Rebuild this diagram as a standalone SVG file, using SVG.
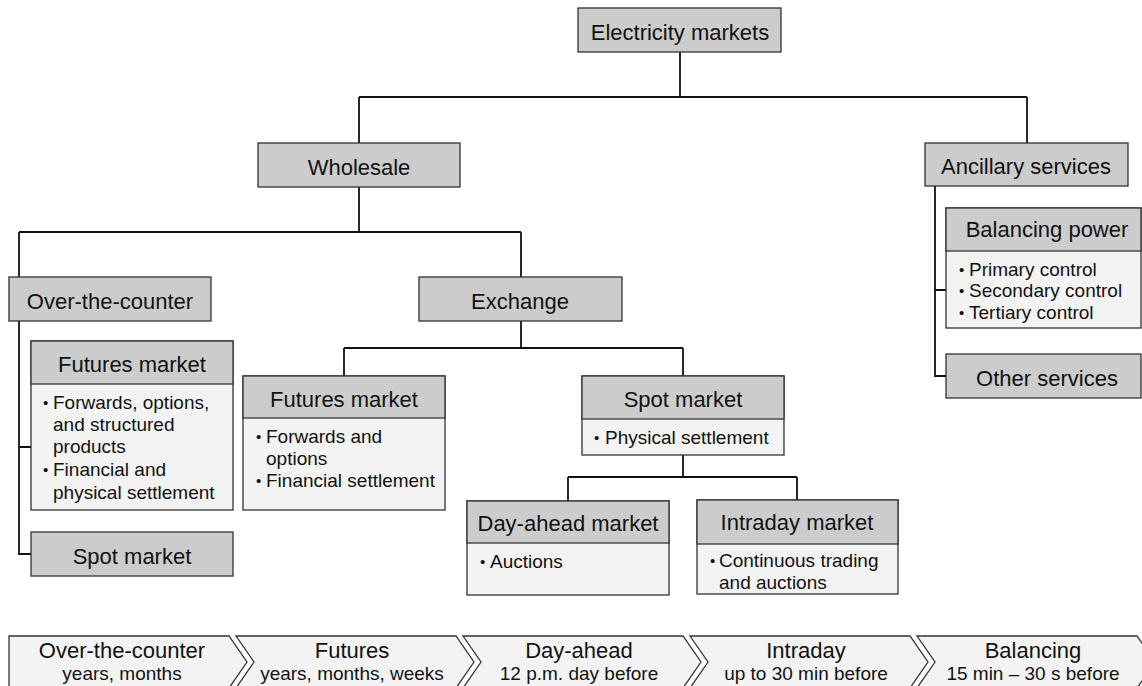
<svg xmlns="http://www.w3.org/2000/svg" width="1142" height="686" viewBox="0 0 1142 686">
<style>
  .hd { fill: #cccccc; stroke: #333333; stroke-width: 1.3; }
  .bd { fill: #f3f3f3; stroke: #333333; stroke-width: 1.3; }
  .t { font-family: "Liberation Sans", Arial, sans-serif; font-size: 22px; fill: #111111; text-anchor: middle; }
  .b { font-family: "Liberation Sans", Arial, sans-serif; font-size: 19px; fill: #111111; }
  .b .d { font-size: 15px; }
  .s { font-family: "Liberation Sans", Arial, sans-serif; font-size: 19px; fill: #111111; text-anchor: middle; }
  .ln { fill: none; stroke: #111111; stroke-width: 1.8; }
</style>
<rect width="1142" height="686" fill="#ffffff"/>
<g id="connectors">
  <path class="ln" d="M680 52 V97 M359 97 H1027 M359 97 V143 M1027 97 V143"/>
  <path class="ln" d="M359 187 V232 M19 232 H521 M19 232 V277 M521 232 V277"/>
  <path class="ln" d="M19 321 V554 H31 M19 447 H31"/>
  <path class="ln" d="M521 321 V348 M344 348 H683 M344 348 V376 M683 348 V376"/>
  <path class="ln" d="M683 455 V477 M568 477 H797 M568 477 V501 M797 477 V500"/>
  <path class="ln" d="M935 186 V376 H946 M935 290 H946"/>
</g>
<g id="electricity-markets">
  <rect class="hd" x="578" y="8" width="203" height="44"/>
  <text class="t" x="680" y="40">Electricity markets</text>
</g>
<g id="wholesale">
  <rect class="hd" x="258" y="143" width="202" height="44"/>
  <text class="t" x="359" y="175">Wholesale</text>
</g>
<g id="ancillary-services">
  <rect class="hd" x="925" y="143" width="203" height="43"/>
  <text class="t" x="1026" y="174">Ancillary services</text>
</g>
<g id="over-the-counter">
  <rect class="hd" x="9" y="277" width="202" height="44"/>
  <text class="t" x="110" y="309">Over-the-counter</text>
</g>
<g id="exchange">
  <rect class="hd" x="419" y="277" width="203" height="44"/>
  <text class="t" x="520" y="309">Exchange</text>
</g>
<g id="otc-futures-market">
  <rect class="bd" x="31" y="341" width="202" height="169"/>
  <rect class="hd" x="31" y="341" width="202" height="43"/>
  <text class="t" x="132" y="372">Futures market</text>
  <text class="b"><tspan class="d" x="43" y="408">•</tspan><tspan x="53" y="409">Forwards, options,</tspan></text>
  <text class="b" x="53" y="431">and structured</text>
  <text class="b" x="53" y="453">products</text>
  <text class="b"><tspan class="d" x="43" y="475">•</tspan><tspan x="53" y="476">Financial and</tspan></text>
  <text class="b" x="53" y="499">physical settlement</text>
</g>
<g id="otc-spot-market">
  <rect class="hd" x="31" y="532" width="202" height="44"/>
  <text class="t" x="132" y="564">Spot market</text>
</g>
<g id="exchange-futures-market">
  <rect class="bd" x="243" y="376" width="202" height="134"/>
  <rect class="hd" x="243" y="376" width="202" height="42"/>
  <text class="t" x="344" y="407">Futures market</text>
  <text class="b"><tspan class="d" x="256" y="442">•</tspan><tspan x="266" y="443">Forwards and</tspan></text>
  <text class="b" x="266" y="465">options</text>
  <text class="b"><tspan class="d" x="256" y="486">•</tspan><tspan x="266" y="487">Financial settlement</tspan></text>
</g>
<g id="exchange-spot-market">
  <rect class="bd" x="582" y="376" width="202" height="79"/>
  <rect class="hd" x="582" y="376" width="202" height="43"/>
  <text class="t" x="683" y="407">Spot market</text>
  <text class="b"><tspan class="d" x="594" y="443">•</tspan><tspan x="605" y="444">Physical settlement</tspan></text>
</g>
<g id="day-ahead-market">
  <rect class="bd" x="467" y="501" width="202" height="94"/>
  <rect class="hd" x="467" y="501" width="202" height="42"/>
  <text class="t" x="568" y="531">Day-ahead market</text>
  <text class="b"><tspan class="d" x="480" y="567">•</tspan><tspan x="490" y="568">Auctions</tspan></text>
</g>
<g id="intraday-market">
  <rect class="bd" x="697" y="500" width="201" height="94"/>
  <rect class="hd" x="697" y="500" width="201" height="44"/>
  <text class="t" x="797" y="530">Intraday market</text>
  <text class="b"><tspan class="d" x="710" y="566">•</tspan><tspan x="719" y="567">Continuous trading</tspan></text>
  <text class="b" x="719" y="589">and auctions</text>
</g>
<g id="balancing-power">
  <rect class="bd" x="946" y="208" width="195" height="120"/>
  <rect class="hd" x="946" y="208" width="195" height="43"/>
  <text class="t" x="1047" y="237">Balancing power</text>
  <text class="b"><tspan class="d" x="959" y="275">•</tspan><tspan x="969" y="276">Primary control</tspan></text>
  <text class="b"><tspan class="d" x="959" y="296">•</tspan><tspan x="969" y="297">Secondary control</tspan></text>
  <text class="b"><tspan class="d" x="959" y="318">•</tspan><tspan x="969" y="319">Tertiary control</tspan></text>
</g>
<g id="other-services">
  <rect class="hd" x="946" y="354" width="195" height="44"/>
  <text class="t" x="1047" y="386">Other services</text>
</g>
<g id="timeline-otc">
  <polygon class="bd" points="9,636 229,636 247,662 229,688 9,688"/>
  <text class="t" x="122" y="658">Over-the-counter</text>
  <text class="s" x="122" y="680">years, months</text>
</g>
<g id="timeline-futures">
  <polygon class="bd" points="236,636 456,636 474,662 456,688 236,688 254,662"/>
  <text class="t" x="352" y="658">Futures</text>
  <text class="s" x="352" y="680">years, months, weeks</text>
</g>
<g id="timeline-day-ahead">
  <polygon class="bd" points="463,636 683,636 701,662 683,688 463,688 481,662"/>
  <text class="t" x="579" y="658">Day-ahead</text>
  <text class="s" x="579" y="680">12 p.m. day before</text>
</g>
<g id="timeline-intraday">
  <polygon class="bd" points="690,636 910,636 928,662 910,688 690,688 708,662"/>
  <text class="t" x="806" y="658">Intraday</text>
  <text class="s" x="806" y="680">up to 30 min before</text>
</g>
<g id="timeline-balancing">
  <polygon class="bd" points="917,636 1137,636 1155,662 1137,688 917,688 935,662"/>
  <text class="t" x="1033" y="658">Balancing</text>
  <text class="s" x="1033" y="680">15 min – 30 s before</text>
</g>
</svg>
